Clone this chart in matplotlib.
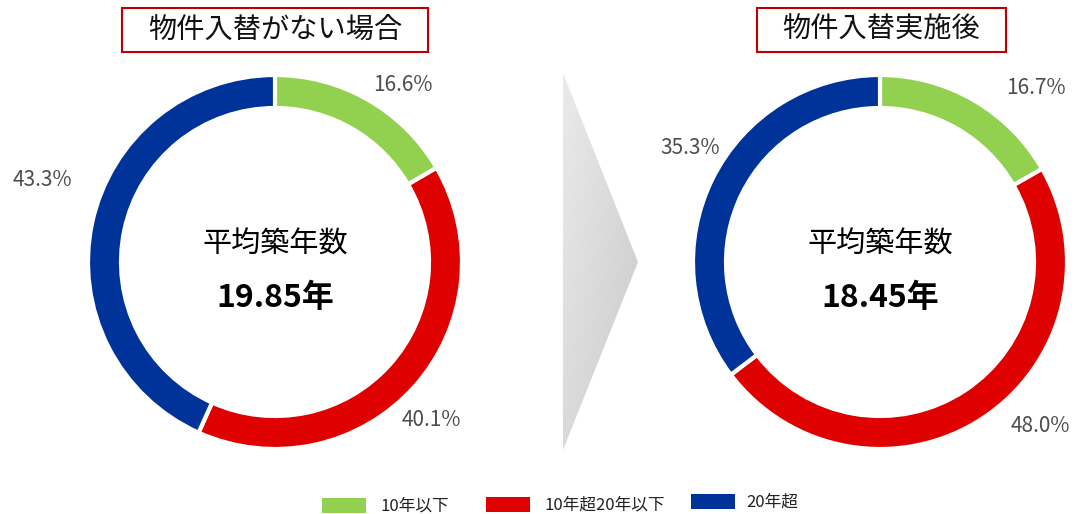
import matplotlib
matplotlib.use("Agg")
import matplotlib.pyplot as plt
import numpy as np
from matplotlib.patches import Rectangle, Polygon

plt.rcParams['font.family'] = ['Noto Sans CJK JP', 'DejaVu Sans']

# ---- data ----
categories = ['10年以下', '10年超20年以下', '20年超']
before_values = [16.6, 40.1, 43.3]
after_values = [16.7, 48.0, 35.3]
titles = ['物件入替がない場合', '物件入替実施後']
center_label = '平均築年数'
avg_age = ['19.85年', '18.45年']

colors = ['#92D050', '#DF0000', '#003399']
pct_color = '#4D4D4D'

W, H = 1077, 514
fig = plt.figure(figsize=(W / 100, H / 100), dpi=100)
ax = fig.add_axes([0, 0, 1, 1])

def Y(py):
    return H - py

R_OUT, R_IN = 187, 154
centers = [(275, Y(262)), (880, Y(262))]
label_pos = [[(403, 85), (431, 420), (42, 180)],
             [(1036, 88), (1040, 426), (690, 148)]]
title_boxes = [(122, 8, 428, 52), (757, 8, 1006, 52)]

for i, vals in enumerate([before_values, after_values]):
    cx, cy = centers[i]
    ax.pie(vals, colors=colors, startangle=90, counterclock=False,
           center=(cx, cy), radius=R_OUT,
           wedgeprops=dict(width=R_OUT - R_IN, edgecolor='white', linewidth=3))
    for v, (lx, ly) in zip(vals, label_pos[i]):
        ax.text(lx, Y(ly), f'{v:.1f}%', ha='center', va='center',
                fontsize=15, color=pct_color)
    ax.text(cx, Y(245), center_label, ha='center', va='center', fontsize=21, color='black')
    ax.text(cx, Y(298), avg_age[i], ha='center', va='center', fontsize=23,
            fontweight='bold', color='black')
    x0, y0, x1, y1 = title_boxes[i]
    ax.add_patch(Rectangle((x0, Y(y1)), x1 - x0, y1 - y0, facecolor='white',
                           edgecolor='#C00000', linewidth=1.5))
    ax.text((x0 + x1) / 2, Y((y0 + y1) / 2), titles[i], ha='center', va='center',
            fontsize=20.3, color='#111111')

# gradient arrow
arrow = Polygon([(563, Y(73)), (638, Y(262)), (563, Y(450))], closed=True,
                facecolor='none', edgecolor='none')
ax.add_patch(arrow)
gx = np.linspace(0, 1, 64)
gy = np.linspace(0, 1, 256)
GX, GY = np.meshgrid(gx, gy)
t = (GX * 0.5 + GY * 0.5)
grad = 0.92 - 0.13 * t
img = ax.imshow(np.dstack([grad, grad, grad]), extent=(563, 638, Y(450), Y(73)),
                origin='upper', aspect='auto', zorder=1)
img.set_clip_path(arrow)

# legend
leg = [(322, 498, 380, 506), (486, 497, 545, 505), (691, 494, 746, 502)]
for (px, py, tx, ty), c, lab in zip(leg, colors, categories):
    ax.add_patch(Rectangle((px, Y(py + 15)), 44, 15, facecolor=c, edgecolor='none'))
    ax.text(tx, Y(ty), lab, ha='left', va='center', fontsize=12, color='#222222')

ax.set_xlim(0, W)
ax.set_ylim(0, H)
ax.set_aspect('auto')
ax.axis('off')
fig.savefig('out.png', dpi=100, facecolor='white')
